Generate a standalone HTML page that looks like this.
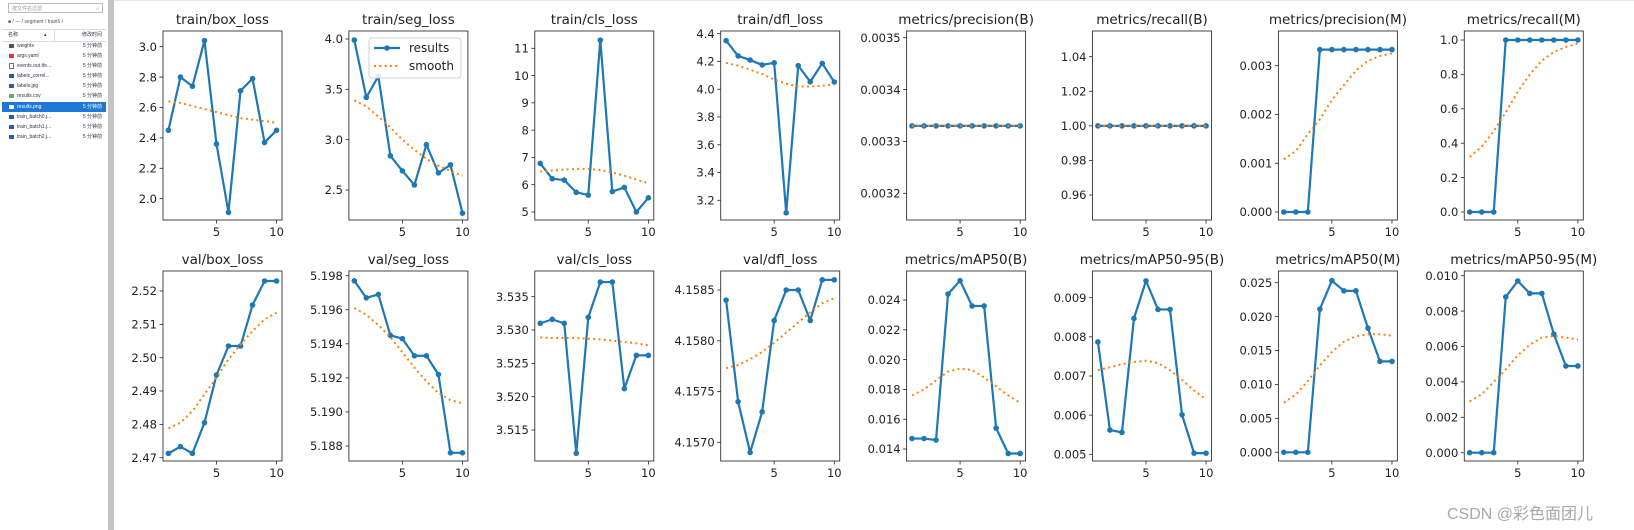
<!DOCTYPE html>
<html><head><meta charset="utf-8">
<style>
html,body{margin:0;padding:0;background:#fff;width:1634px;height:530px;overflow:hidden;position:relative;font-family:"DejaVu Sans","Liberation Sans",sans-serif}
#side{position:absolute;left:0;top:0;width:108px;height:530px;background:#fff;font-family:"Liberation Sans","Noto Sans CJK SC",sans-serif;font-size:5px;color:#334}
#bar{position:absolute;left:108px;top:0;width:6px;height:530px;background:#c4c4c4}
#topline{position:absolute;left:114px;top:0;width:1520px;height:1px;background:#e6e6e6}
.row{position:absolute;left:2px;width:104px;height:10px;line-height:10px}
.row .n{position:absolute;left:15px}
.row .d{position:absolute;right:4px}
.row .ic{position:absolute;left:7px;top:3px;width:5px;height:4px;background:#2a5ca8}
.sel{background:#1e78d6;color:#fff}
svg{position:absolute;left:0;top:0}
text{font-family:"DejaVu Sans","Liberation Sans",sans-serif;fill:#222}
.ti{font-size:13.5px}
.y,.x{font-size:11.5px}
#wm{position:absolute;left:1447px;top:500px;font-size:16px;color:#a8a8a8;font-family:"Liberation Sans","Noto Sans CJK SC",sans-serif}
</style></head><body>
<div id="side">
<div style="position:absolute;left:8px;top:3px;width:95px;height:10px;border:1px solid #bbb;line-height:10px;color:#999;padding-left:3px;box-sizing:border-box">按文件名过滤<span style="position:absolute;right:3px">⌕</span></div>
<div style="position:absolute;left:8px;top:19px;color:#555">■ / — / segment / train5 /</div>
<div style="position:absolute;left:2px;top:29px;width:104px;height:11px;border-top:1px solid #ddd;border-bottom:1px solid #ddd;line-height:11px"><span style="position:absolute;left:6px">名称</span><span style="position:absolute;left:42px">▴</span><span style="position:absolute;left:52px;top:0;width:1px;height:11px;background:#ddd"></span><span style="position:absolute;right:4px">修改时间</span></div>
<div class="row" style="top:41px"><span class="ic" style="background:#555"></span><span class="n">weights</span><span class="d">5 分钟前</span></div>
<div class="row" style="top:51px"><span class="ic" style="background:#d33"></span><span class="n">args.yaml</span><span class="d">5 分钟前</span></div>
<div class="row" style="top:61px"><span class="ic" style="background:#fff;border:1px solid #777;width:3px;top:2px"></span><span class="n">events.out.tfe...</span><span class="d">5 分钟前</span></div>
<div class="row" style="top:71px"><span class="ic"></span><span class="n">labels_correl...</span><span class="d">5 分钟前</span></div>
<div class="row" style="top:81px"><span class="ic"></span><span class="n">labels.jpg</span><span class="d">5 分钟前</span></div>
<div class="row" style="top:91px"><span class="ic" style="background:#6a6"></span><span class="n">results.csv</span><span class="d">5 分钟前</span></div>
<div class="row sel" style="top:102px"><span class="ic" style="background:#fff"></span><span class="n">results.png</span><span class="d">5 分钟前</span></div>
<div class="row" style="top:112px"><span class="ic"></span><span class="n">train_batch0.j...</span><span class="d">5 分钟前</span></div>
<div class="row" style="top:122px"><span class="ic"></span><span class="n">train_batch1.j...</span><span class="d">5 分钟前</span></div>
<div class="row" style="top:132px"><span class="ic"></span><span class="n">train_batch2.j...</span><span class="d">5 分钟前</span></div>
</div>
<div id="bar"></div><div id="topline"></div>
<svg id="s" width="1634" height="530" xmlns="http://www.w3.org/2000/svg">
<g id="p0"><text class="ti">train/box_loss</text><text class="y">2.0</text><text class="y">2.2</text><text class="y">2.4</text><text class="y">2.6</text><text class="y">2.8</text><text class="y">3.0</text><text class="x">5</text><text class="x">10</text></g>
<g id="p1"><text class="ti">train/seg_loss</text><text class="y">2.5</text><text class="y">3.0</text><text class="y">3.5</text><text class="y">4.0</text><text class="x">5</text><text class="x">10</text></g>
<g id="p2"><text class="ti">train/cls_loss</text><text class="y">5</text><text class="y">6</text><text class="y">7</text><text class="y">8</text><text class="y">9</text><text class="y">10</text><text class="y">11</text><text class="x">5</text><text class="x">10</text></g>
<g id="p3"><text class="ti">train/dfl_loss</text><text class="y">3.2</text><text class="y">3.4</text><text class="y">3.6</text><text class="y">3.8</text><text class="y">4.0</text><text class="y">4.2</text><text class="y">4.4</text><text class="x">5</text><text class="x">10</text></g>
<g id="p4"><text class="ti">metrics/precision(B)</text><text class="y">0.0032</text><text class="y">0.0033</text><text class="y">0.0034</text><text class="y">0.0035</text><text class="x">5</text><text class="x">10</text></g>
<g id="p5"><text class="ti">metrics/recall(B)</text><text class="y">0.96</text><text class="y">0.98</text><text class="y">1.00</text><text class="y">1.02</text><text class="y">1.04</text><text class="x">5</text><text class="x">10</text></g>
<g id="p6"><text class="ti">metrics/precision(M)</text><text class="y">0.000</text><text class="y">0.001</text><text class="y">0.002</text><text class="y">0.003</text><text class="x">5</text><text class="x">10</text></g>
<g id="p7"><text class="ti">metrics/recall(M)</text><text class="y">0.0</text><text class="y">0.2</text><text class="y">0.4</text><text class="y">0.6</text><text class="y">0.8</text><text class="y">1.0</text><text class="x">5</text><text class="x">10</text></g>
<g id="p8"><text class="ti">val/box_loss</text><text class="y">2.47</text><text class="y">2.48</text><text class="y">2.49</text><text class="y">2.50</text><text class="y">2.51</text><text class="y">2.52</text><text class="x">5</text><text class="x">10</text></g>
<g id="p9"><text class="ti">val/seg_loss</text><text class="y">5.188</text><text class="y">5.190</text><text class="y">5.192</text><text class="y">5.194</text><text class="y">5.196</text><text class="y">5.198</text><text class="x">5</text><text class="x">10</text></g>
<g id="p10"><text class="ti">val/cls_loss</text><text class="y">3.515</text><text class="y">3.520</text><text class="y">3.525</text><text class="y">3.530</text><text class="y">3.535</text><text class="x">5</text><text class="x">10</text></g>
<g id="p11"><text class="ti">val/dfl_loss</text><text class="y">4.1570</text><text class="y">4.1575</text><text class="y">4.1580</text><text class="y">4.1585</text><text class="x">5</text><text class="x">10</text></g>
<g id="p12"><text class="ti">metrics/mAP50(B)</text><text class="y">0.014</text><text class="y">0.016</text><text class="y">0.018</text><text class="y">0.020</text><text class="y">0.022</text><text class="y">0.024</text><text class="x">5</text><text class="x">10</text></g>
<g id="p13"><text class="ti">metrics/mAP50-95(B)</text><text class="y">0.005</text><text class="y">0.006</text><text class="y">0.007</text><text class="y">0.008</text><text class="y">0.009</text><text class="x">5</text><text class="x">10</text></g>
<g id="p14"><text class="ti">metrics/mAP50(M)</text><text class="y">0.000</text><text class="y">0.005</text><text class="y">0.010</text><text class="y">0.015</text><text class="y">0.020</text><text class="y">0.025</text><text class="x">5</text><text class="x">10</text></g>
<g id="p15"><text class="ti">metrics/mAP50-95(M)</text><text class="y">0.000</text><text class="y">0.002</text><text class="y">0.004</text><text class="y">0.006</text><text class="y">0.008</text><text class="y">0.010</text><text class="x">5</text><text class="x">10</text></g>
<g id="leg">
<rect x="369" y="38" width="92" height="40" rx="3" fill="#fff" fill-opacity="0.85" stroke="#d0d0d0" stroke-width="1"/>
<line x1="374" y1="48" x2="400" y2="48" stroke="#1f77b4" stroke-width="2.2"/>
<circle cx="387" cy="48" r="2.8" fill="#1f77b4"/>
<line x1="374" y1="66" x2="400" y2="66" stroke="#ff7f0e" stroke-width="2" stroke-dasharray="2 3.3"/>
<text x="409" y="52" style="font-size:12px">results</text>
<text x="409" y="70" style="font-size:12px">smooth</text>
</g>
</svg>
<div id="wm">CSDN @彩色面团儿</div>
<script>
var P=[
{ref:[3.0,46.7,2.0,198.7],d:[2.45,2.80,2.74,3.04,2.36,1.91,2.71,2.79,2.37,2.45],s:[2.64,2.63,2.61,2.59,2.57,2.55,2.53,2.52,2.51,2.50]},
{ref:[4.0,39,2.5,190],d:[3.99,3.42,3.63,2.84,2.69,2.55,2.95,2.67,2.75,2.27],s:[3.39,3.33,3.23,3.12,3.00,2.90,2.81,2.74,2.69,2.64]},
{ref:[11,48.3,5,212],d:[6.78,6.22,6.17,5.72,5.62,11.3,5.75,5.9,5.0,5.52],s:[6.48,6.52,6.55,6.58,6.58,6.54,6.45,6.33,6.19,6.05]},
{ref:[4.4,33.7,3.2,200.3],d:[4.35,4.24,4.21,4.175,4.19,3.11,4.17,4.054,4.186,4.052],s:[4.19,4.17,4.14,4.11,4.07,4.04,4.02,4.02,4.025,4.035]},
{ref:[0.0035,37.7,0.0032,193.3],d:[.00333,.00333,.00333,.00333,.00333,.00333,.00333,.00333,.00333,.00333],s:[.00333,.00333,.00333,.00333,.00333,.00333,.00333,.00333,.00333,.00333]},
{ref:[1.04,56.7,0.96,195],d:[1,1,1,1,1,1,1,1,1,1],s:[1,1,1,1,1,1,1,1,1,1]},
{ref:[0.003,65.7,0,212],d:[0,0,0,.00333,.00333,.00333,.00333,.00333,.00333,.00333],s:[.00108,.00125,.0016,.0019,.0023,.0026,.0029,.0031,.0032,.00325]},
{ref:[1,40,0,212],d:[0,0,0,1,1,1,1,1,1,1],s:[.32,.38,.47,.58,.70,.80,.88,.93,.96,.98]},
{ref:[2.52,291,2.47,457.7],d:[2.4713,2.4733,2.4713,2.4805,2.4948,2.5035,2.5035,2.5158,2.523,2.523],s:[2.4788,2.4805,2.484,2.489,2.494,2.4995,2.504,2.508,2.5115,2.5135]},
{ref:[5.198,275.7,5.188,446],d:[5.1977,5.1967,5.1969,5.1945,5.1943,5.1933,5.1933,5.1922,5.1876,5.1876],s:[5.1961,5.1957,5.1951,5.1944,5.1935,5.1926,5.1918,5.1911,5.1907,5.1905]},
{ref:[3.535,296.7,3.515,430],d:[3.531,3.5316,3.531,3.5115,3.5319,3.5372,3.5372,3.5212,3.5262,3.5262],s:[3.5289,3.5288,3.5288,3.5288,3.5287,3.5286,3.5284,3.5282,3.528,3.5277]},
{ref:[4.1585,290,4.1570,442.3],d:[4.1584,4.1574,4.1569,4.1573,4.1582,4.1585,4.1585,4.1582,4.1586,4.1586],s:[4.15773,4.15776,4.15782,4.15789,4.15798,4.15808,4.15818,4.15828,4.15837,4.15842]},
{ref:[0.024,300,0.014,449],d:[.0147,.0147,.0146,.0244,.0253,.0236,.0236,.0154,.0137,.0137],s:[.0176,.0180,.0186,.0192,.0194,.0193,.0188,.0182,.0176,.0171]},
{ref:[0.009,297.7,0.005,454.3],d:[.00787,.00562,.00556,.00847,.00943,.0087,.0087,.00601,.00503,.00503],s:[.00715,.00722,.0073,.00736,.00739,.00733,.00715,.0069,.00663,.0064]},
{ref:[0.025,282.7,0,452.3],d:[0,0,0,.0211,.0253,.0238,.0238,.0183,.0134,.0134],s:[.0073,.0085,.0105,.0128,.0148,.0163,.0171,.0174,.0174,.0172]},
{ref:[0.010,275.7,0,452.7],d:[0,0,0,.0088,.0097,.009,.009,.0067,.0049,.0049],s:[.0029,.0033,.004,.0047,.0055,.0061,.0065,.0066,.0065,.0064]}
];
var NS="http://www.w3.org/2000/svg";
function el(g,n,a){var e=document.createElementNS(NS,n);for(var k in a)e.setAttribute(k,a[k]);g.appendChild(e);return e;}
var leg=document.getElementById('leg');
P.forEach(function(p,i){
 var g=document.getElementById('p'+i),r=i>=8?1:0,c=i%8;
 var L=163+c*185.9,W=119,T=r?271:31,B=r?461:220;
 var v1=p.ref[0],y1=p.ref[1],v2=p.ref[2],y2=p.ref[3];
 var fy=function(v){return y1+(v-v1)*(y2-y1)/(v2-v1);};
 var fx=function(v){return L+5.4+(v-1)*12.02;};
 var texts=[].slice.call(g.querySelectorAll('text'));
 texts.forEach(function(t){
  var cl=t.getAttribute('class'),v=parseFloat(t.textContent);
  if(cl=='ti'){t.setAttribute('x',L+W/2);t.setAttribute('y',T-7);t.setAttribute('text-anchor','middle');}
  else if(cl=='y'){var yy=fy(v);t.setAttribute('x',L-6);t.setAttribute('y',yy+4.2);t.setAttribute('text-anchor','end');el(g,'line',{x1:L-3.5,x2:L,y1:yy,y2:yy,stroke:'#222','stroke-width':0.8});}
  else {var xx=fx(v);t.setAttribute('x',xx);t.setAttribute('y',B+16);t.setAttribute('text-anchor','middle');el(g,'line',{x1:xx,x2:xx,y1:B,y2:B+3.5,stroke:'#222','stroke-width':0.8});}
 });
 var pd=p.d.map(function(v,k){return fx(k+1).toFixed(2)+','+fy(v).toFixed(2);}).join(' ');
 var ps=p.s.map(function(v,k){return fx(k+1).toFixed(2)+','+fy(v).toFixed(2);}).join(' ');
 el(g,'polyline',{points:pd,fill:'none',stroke:'#1f77b4','stroke-width':2.2,'stroke-linejoin':'round'});
 p.d.forEach(function(v,k){el(g,'circle',{cx:fx(k+1),cy:fy(v),r:2.8,fill:'#1f77b4'});});
 el(g,'polyline',{points:ps,fill:'none',stroke:'#ff7f0e','stroke-width':2,'stroke-dasharray':'2 3.3'});
 el(g,'rect',{x:L,y:T,width:W,height:B-T,fill:'none',stroke:'#333','stroke-width':0.9});
});
document.getElementById('s').appendChild(leg);
</script>
</body></html>
